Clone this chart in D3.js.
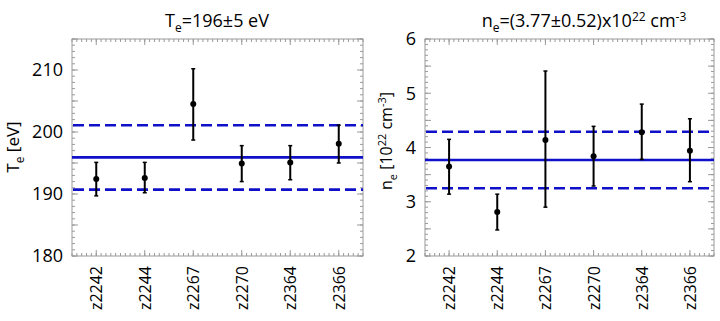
<!DOCTYPE html>
<html><head><meta charset="utf-8">
<script src="https://cdn.jsdelivr.net/npm/d3@7"></script>
<style>body{margin:0;background:#fff}svg{display:block}text{font-family:"Open Sans",sans-serif;fill:#000}</style>
</head><body><svg id="c" width="720" height="321"></svg>
<script>
const shots = ["z2242","z2244","z2267","z2270","z2364","z2366"];
const teVal = [192.4,192.6,204.5,194.9,195.1,198.1];
const teLo  = [189.7,190.2,198.7,192.0,192.3,195.0];
const teHi  = [195.1,195.1,210.2,197.8,197.8,201.1];
const teMean = 195.9, teSd = 5.2;
const neVal = [3.65,2.81,4.14,3.84,4.28,3.94];
const neLo  = [3.14,2.48,2.90,3.29,3.78,3.37];
const neHi  = [4.15,3.14,5.41,4.39,4.80,4.53];
const neMean = 3.77, neSd = 0.52;
const teTicks = [180,190,200,210];
const neTicks = [2,3,4,5,6];

const svg = d3.select("#c");
const frameCol = "#9a9a9a", blue = "#1010c8";

function panel(o){
  const g = svg.append("g");
  const x = d3.scaleLinear().domain([-0.5,5.5]).range([o.x0,o.x1]);
  const y = d3.scaleLinear().domain(o.dom).range([256,39]);
  const minorX = d3.range(-0.5,5.5001,0.1);
  const minorY = d3.range(o.dom[0],o.dom[1]+1e-6,o.minor);
  const majorY = d3.range(o.dom[0],o.dom[1]+1e-6,o.major);
  const tk = g.append("g").attr("stroke",frameCol).attr("stroke-width",1);
  minorX.forEach(v=>{
    tk.append("line").attr("x1",x(v)).attr("x2",x(v)).attr("y1",256).attr("y2",253);
    tk.append("line").attr("x1",x(v)).attr("x2",x(v)).attr("y1",39).attr("y2",42);
  });
  shots.forEach((s,i)=>{
    tk.append("line").attr("x1",x(i)).attr("x2",x(i)).attr("y1",256).attr("y2",250);
    tk.append("line").attr("x1",x(i)).attr("x2",x(i)).attr("y1",39).attr("y2",45);
  });
  minorY.forEach(v=>{
    tk.append("line").attr("x1",o.x0).attr("x2",o.x0+3).attr("y1",y(v)).attr("y2",y(v));
    tk.append("line").attr("x1",o.x1).attr("x2",o.x1-3).attr("y1",y(v)).attr("y2",y(v));
  });
  majorY.forEach(v=>{
    tk.append("line").attr("x1",o.x0).attr("x2",o.x0+6).attr("y1",y(v)).attr("y2",y(v));
    tk.append("line").attr("x1",o.x1).attr("x2",o.x1-6).attr("y1",y(v)).attr("y2",y(v));
  });
  g.append("rect").attr("x",o.x0).attr("y",39).attr("width",o.x1-o.x0).attr("height",217)
    .attr("fill","none").attr("stroke",frameCol).attr("stroke-width",1);
  const L = g.append("g").attr("stroke",blue).attr("stroke-width",2.6);
  L.append("line").attr("x1",o.x0).attr("x2",o.x1).attr("y1",y(o.mean)).attr("y2",y(o.mean));
  [o.mean+o.sd,o.mean-o.sd].forEach(v=>{
    L.append("line").attr("x1",o.x0+1).attr("x2",o.x1).attr("y1",y(v)).attr("y2",y(v)).attr("stroke-dasharray","11,5");
  });
  const E = g.append("g").attr("stroke","#000").attr("stroke-width",2);
  shots.forEach((s,i)=>{
    E.append("line").attr("x1",x(i)).attr("x2",x(i)).attr("y1",y(o.lo[i])).attr("y2",y(o.hi[i]));
    E.append("line").attr("x1",x(i)-2).attr("x2",x(i)+2).attr("y1",y(o.lo[i])).attr("y2",y(o.lo[i])).attr("stroke-width",1.5);
    E.append("line").attr("x1",x(i)-2).attr("x2",x(i)+2).attr("y1",y(o.hi[i])).attr("y2",y(o.hi[i])).attr("stroke-width",1.5);
    g.append("circle").attr("cx",x(i)).attr("cy",y(o.val[i])).attr("r",3).attr("fill","#000");
  });
  o.ticks.forEach(v=>{
    g.append("text").attr("x",o.x0-9).attr("y",y(v)).attr("dy","0.36em").attr("text-anchor","end")
      .style("font-size","18px").text(v);
  });
  shots.forEach((s,i)=>{
    g.append("text").attr("transform",`translate(${x(i)+6},266) rotate(-90)`).attr("text-anchor","end")
      .style("font-size","16px").text(s);
  });
  return {x,y};
}

panel({x0:72,x1:363,dom:[180,215],minor:1,major:5,mean:teMean,sd:teSd,val:teVal,lo:teLo,hi:teHi,ticks:teTicks});
panel({x0:425,x1:714,dom:[2,6],minor:0.1,major:0.5,mean:neMean,sd:neSd,val:neVal,lo:neLo,hi:neHi,ticks:neTicks});

const t1 = svg.append("text").attr("x",217).attr("y",27).attr("text-anchor","middle").style("font-size","18px");
t1.append("tspan").text("T");
t1.append("tspan").attr("dy",5).style("font-size","12px").text("e");
t1.append("tspan").attr("dy",-5).text("=196±5 eV");

const t2 = svg.append("text").attr("x",584).attr("y",27).attr("text-anchor","middle").style("font-size","18px");
t2.append("tspan").text("n");
t2.append("tspan").attr("dy",5).style("font-size","12px").text("e");
t2.append("tspan").attr("dy",-5).text("=(3.77±0.52)x10");
t2.append("tspan").attr("dy",-6).style("font-size","12px").text("22");
t2.append("tspan").attr("dy",6).text(" cm");
t2.append("tspan").attr("dy",-6).style("font-size","12px").text("-3");

const a1 = svg.append("text").attr("transform","translate(19,147) rotate(-90)").attr("text-anchor","middle").style("font-size","17px");
a1.append("tspan").text("T");
a1.append("tspan").attr("dy",5).style("font-size","12px").text("e");
a1.append("tspan").attr("dy",-5).text(" [eV]");

const a2 = svg.append("text").attr("transform","translate(392,141) rotate(-90)").attr("text-anchor","middle").style("font-size","16px");
a2.append("tspan").text("n");
a2.append("tspan").attr("dy",5).style("font-size","11px").text("e");
a2.append("tspan").attr("dy",-5).text(" [10");
a2.append("tspan").attr("dy",-6).style("font-size","11px").text("22");
a2.append("tspan").attr("dy",6).text(" cm");
a2.append("tspan").attr("dy",-6).style("font-size","11px").text("-3");
a2.append("tspan").attr("dy",6).text("]");
</script></body></html>
